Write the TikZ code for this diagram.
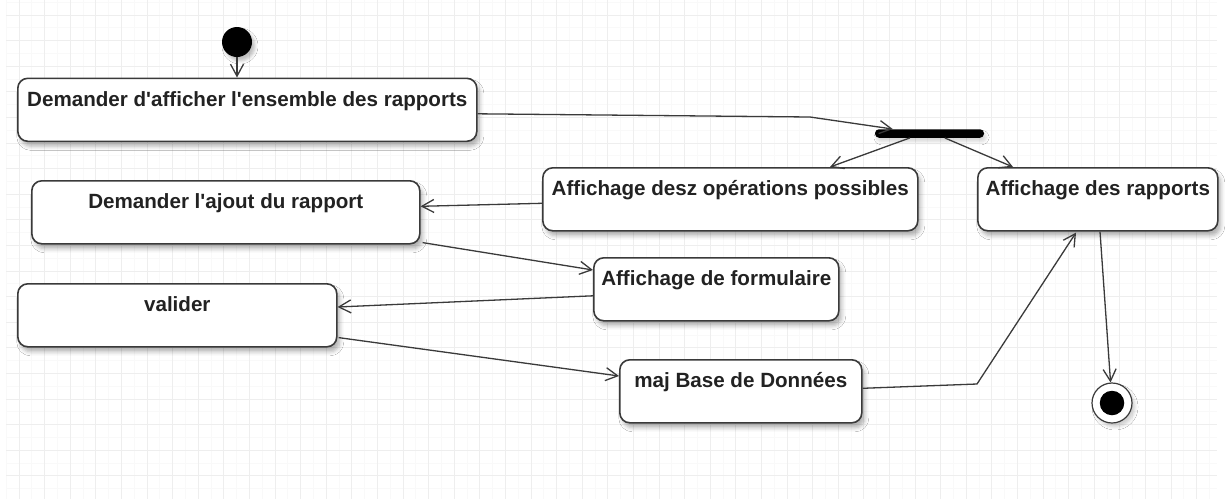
\documentclass[tikz,border=0pt]{standalone}
\usepackage{fontspec}
\setmainfont{Liberation Sans}
\usetikzlibrary{arrows.meta,calc,shadows.blur}
\definecolor{gridmajor}{HTML}{EEEEEE}
\definecolor{gridminor}{HTML}{F9F9F9}
\definecolor{edge}{HTML}{3A3A3A}
\definecolor{ink}{HTML}{222222}
\tikzset{
  activity/.style={draw=edge, line width=1.6pt, fill=white, rounded corners=10pt,
    anchor=north west, inner xsep=0pt, inner ysep=0pt,
    text height=28pt, text depth=35pt, align=center,
    font=\fontsize{20.6}{24}\selectfont\bfseries, text=ink,
    blur shadow={shadow xshift=3pt, shadow yshift=-5pt, shadow blur radius=4pt, shadow opacity=30}},
  flow/.style={draw=edge, line width=1.3pt, -{Straight Barb[length=12pt,width=13pt,line width=1.3pt]}},
}
\newcommand{\apos}{\textquotesingle}
\begin{document}
\begin{tikzpicture}[x=1pt,y=-1pt]
\useasboundingbox (0,0) rectangle (1229,499);
\fill[white] (0,0) rectangle (1229,499);
% background grid
\begin{scope}
\clip (6,0) rectangle (1217,499);
\foreach \i in {0,...,48} {
  \draw[gridminor, line width=0.8pt] ({6.2+25.6*\i},0) -- ++(0,499);
}
\foreach \i in {0,...,20} {
  \draw[gridminor, line width=0.8pt] (6,{2.2+25.6*\i}) -- ++(1211,0);
}
\foreach \i in {0,...,48} {
  \draw[gridmajor, line width=1pt] ({19+25.6*\i},0) -- ++(0,499);
}
\foreach \i in {0,...,20} {
  \draw[gridmajor, line width=1pt] (6,{15+25.6*\i}) -- ++(1211,0);
}
\end{scope}

% initial and final states
\node[circle, fill=black, minimum size=30pt, inner sep=0pt,
  blur shadow={shadow xshift=3pt, shadow yshift=-4pt, shadow blur radius=3pt, shadow opacity=25}] (start) at (237,42) {};
\node[circle, draw=edge, line width=1.2pt, fill=white, minimum size=40pt, inner sep=0pt,
  blur shadow={shadow xshift=3pt, shadow yshift=-4pt, shadow blur radius=3pt, shadow opacity=18}] (final) at (1112,403) {};
\node[circle, fill=black, minimum size=24.5pt, inner sep=0pt] (finaldot) at (final) {};

% activities
\node[activity, minimum width=459pt] (b1) at (17,77.5) {Demander d\apos afficher l\apos ensemble des rapports};
\node[activity, minimum width=375pt] (b4) at (542,167) {Affichage desz opérations possibles};
\node[activity, minimum width=240pt] (b5) at (977,167) {Affichage des rapports};
\node[activity, minimum width=388pt] (b6) at (31,180) {Demander l\apos ajout du rapport};
\node[activity, minimum width=245pt] (b7) at (593,257) {Affichage de formulaire};
\node[activity, minimum width=319pt] (b8) at (17,283) {valider};
\node[activity, minimum width=242pt] (b9) at (619,359) {maj Base de Données};

% fork bar
\node[fill=black, rounded corners=4pt, minimum width=109pt, minimum height=8.5pt, inner sep=0pt,
  blur shadow={shadow xshift=2pt, shadow yshift=-4pt, shadow blur radius=3pt, shadow opacity=15}] (bar) at (929.5,133.5) {};

% transitions
\draw[flow] (start) -- (start |- b1.north);
\draw[flow] ($(b1.east)+(0,4)$) -- (810,117) -- ($(bar.north west)+(18,0)$);
\draw[flow] ($(bar.south west)+(35,0)$) -- ($(b4.north west)+(288,0)$);
\draw[flow] ($(bar.south west)+(70,0)$) -- ($(b5.north west)+(36,0)$);
\draw[flow] ($(b4.west)+(0,4)$) -- ($(b6.east)+(0,-6)$);
\draw[flow] ($(b6.south east)+(2,-2)$) -- ($(b7.north west)+(0,13)$);
\draw[flow] ($(b7.west)+(0,6.5)$) -- ($(b8.east)+(0,-8.3)$);
\draw[flow] ($(b8.south east)+(1,-10)$) -- ($(b9.north west)+(0,17)$);
\draw[flow] ($(b9.east)+(0,-3)$) -- (977,384) -- ($(b5.south west)+(99,1)$);
\draw[flow] ($(b5.south west)+(123,0)$) -- (final);
\end{tikzpicture}
\end{document}
